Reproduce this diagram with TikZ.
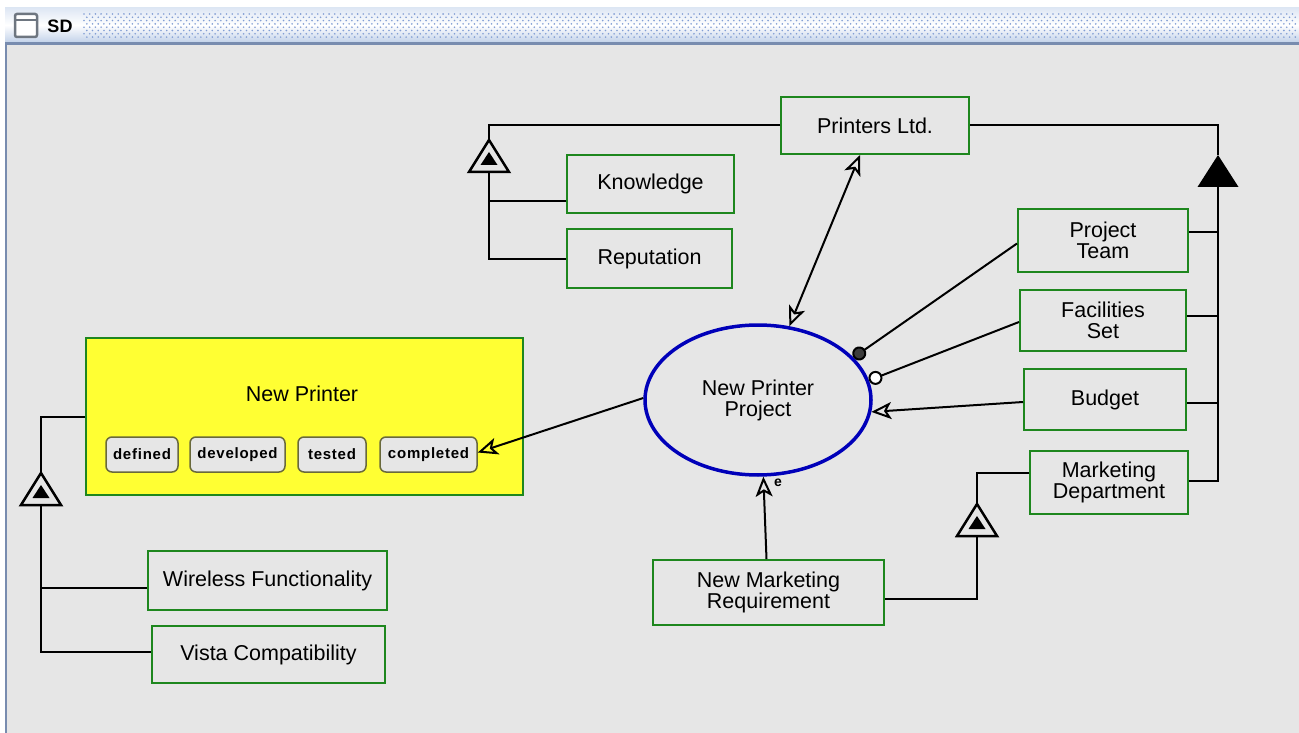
\documentclass[tikz,border=0pt]{standalone}
\usepackage{fontspec}
\setmainfont{Liberation Sans}
\newfontfamily\statefam{Liberation Sans}[LetterSpace=5]
\usetikzlibrary{arrows.meta,shapes.geometric}
\definecolor{bg}{RGB}{230,230,230}
\definecolor{boxgreen}{RGB}{30,135,30}
\definecolor{ellblue}{RGB}{0,0,185}
\definecolor{npyellow}{RGB}{255,255,51}
\definecolor{stateedge}{RGB}{105,105,60}
\definecolor{barlight}{RGB}{222,231,244}
\definecolor{bardark}{RGB}{196,211,234}
\definecolor{barline}{RGB}{120,140,175}
\definecolor{dotc}{RGB}{130,158,212}
\definecolor{icong}{RGB}{110,118,128}
\definecolor{dotdark}{RGB}{60,60,60}
\tikzset{
  box/.style={draw=boxgreen, line width=2pt, fill=bg, rectangle, inner sep=0pt,
    align=center, font=\fontsize{21.5}{21}\selectfont},
  statebox/.style={draw=stateedge, line width=1.5pt, fill=bg, rounded corners=6pt,
    inner sep=0pt, minimum height=35pt, font=\fontsize{15}{15}\statefam\bfseries},
  conn/.style={line width=2pt, draw=black},
  opentip/.tip={Stealth[open, length=20pt, width=17pt, inset=5pt, line width=2pt]},
  openarr/.style={-opentip},
  andtri/.pic={
    \draw[line width=2.5pt, fill=bg, line join=miter] (0,0) -- (20,32) -- (-20,32) -- cycle;
    \fill (0,12) -- (8.5,25) -- (-8.5,25) -- cycle;
  },
  ortri/.pic={
    \fill (0,0) -- (20.5,32) -- (-20.5,32) -- cycle;
  }
}
\begin{document}
\begin{tikzpicture}[x=1pt,y=-1pt]
\useasboundingbox (0,0) rectangle (1299,733);
% window frame
\fill[white] (0,0) rectangle (1299,733);
\shade[top color=barlight, bottom color=bardark, middle color=white] (5,8) rectangle (1299,42);
\fill[barline] (5,42) rectangle (1299,45);
\fill[bg] (7,45) rectangle (1299,733);
\draw[barline, line width=2pt] (6,45) -- (6,733);
\fill[dotc] \foreach \r in {0,...,7} { \foreach \c in {0,...,212} {
   ({84+\c*5.7+mod(\r,2)*2.85}, {14+\r*3.3}) circle (0.9) } };
% icon
\draw[icong, line width=2.5pt, fill=white, rounded corners=2pt] (15,14) rectangle (37,37);
\draw[icong, line width=1.5pt] (15,20) -- (37,20);
\node[font=\fontsize{18}{18}\selectfont\bfseries, anchor=center] (sd) at (60,26) {SD};

% nodes
\node[box, minimum width=188pt, minimum height=57pt] (pl) at (875,125.5) {Printers Ltd.};
\node[box, minimum width=167pt, minimum height=58pt] (kn) at (650.5,184) {Knowledge};
\node[box, minimum width=165pt, minimum height=59pt] (rep) at (649.5,258.5) {Reputation};
\node[box, minimum width=170pt, minimum height=63pt] (ptm) at (1103,240.5) {Project\\Team};
\node[box, minimum width=166pt, minimum height=61pt] (fs) at (1103,320.5) {Facilities\\Set};
\node[box, minimum width=162pt, minimum height=61pt] (bud) at (1105,399.5) {Budget};
\node[box, minimum width=158pt, minimum height=63pt] (md) at (1109,482.5) {Marketing\\Department};
\node[box, minimum width=231pt, minimum height=65pt] (nmr) at (768.5,592.5) {New Marketing\\Requirement};
\node[box, minimum width=239pt, minimum height=59pt] (wf) at (267.5,580.5) {Wireless Functionality};
\node[box, minimum width=233pt, minimum height=57pt] (vc) at (268.5,654.5) {Vista Compatibility};
\node[box, fill=npyellow, minimum width=437pt, minimum height=157pt] (np) at (304.5,416.5) {};
\node[font=\fontsize{21.5}{21}\selectfont] (npt) at (302,394) {New Printer};
\node[statebox, minimum width=72pt] (def) at (142,454.5) {defined};
\node[statebox, minimum width=95pt] (dev) at (237.5,454.5) {developed};
\node[statebox, minimum width=68pt] (tst) at (332,454.5) {tested};
\node[statebox, minimum width=97pt] (cmp) at (428.5,454.5) {completed};
\node[ellipse, draw=ellblue, line width=3.5pt, fill=bg, minimum width=226pt, minimum height=150pt,
  inner sep=0pt, align=center, font=\fontsize{21.5}{21}\selectfont] (ell) at (758,400) {New Printer\\Project};

% decomposition triangles
\coordinate (t1) at (489,140); \coordinate (t1b) at (489,172);
\coordinate (t2) at (1218,155); \coordinate (t2b) at (1218,187);
\coordinate (t3) at (977,504); \coordinate (t3b) at (977,537);
\coordinate (t4) at (41,473); \coordinate (t4b) at (41,506);

\draw[conn] (pl.west) -| (t1);
\draw[conn] (t1b) |- (rep.west);
\draw[conn] ([yshift=-17pt]kn.west) -- ([yshift=-17pt]kn.west -| t1b);
\pic at (t1) {andtri};

\draw[conn] (pl.east) -| (t2);
\draw[conn] (t2b) |- ([yshift=2pt]md.east);
\draw[conn] ([yshift=9pt]ptm.east) -- ([yshift=9pt]ptm.east -| t2b);
\draw[conn] ([yshift=4.5pt]fs.east) -- ([yshift=4.5pt]fs.east -| t2b);
\draw[conn] ([yshift=-3.5pt]bud.east) -- ([yshift=-3.5pt]bud.east -| t2b);
\pic at (t2) {ortri};

\draw[conn] ([yshift=10pt]md.west) -| (t3);
\draw[conn] (t3b) |- ([yshift=-6.5pt]nmr.east);
\pic at (t3) {andtri};

\draw[conn] (np.west) -| (t4);
\draw[conn] (t4b) |- ([yshift=2.5pt]vc.west);
\draw[conn] ([yshift=-7.5pt]wf.west) -- ([yshift=-7.5pt]wf.west -| t4b);
\pic at (t4) {andtri};

% dependencies
\draw[conn, opentip-opentip] ([xshift=-15pt]pl.south) -- (ell.67);
\draw[conn, -{Circle[length=14pt, fill=dotdark]}] ([yshift=-3pt]ptm.west) -- (ell.24);
\draw[conn, -{Circle[length=14pt, fill=white]}] ([yshift=-1.5pt]fs.west) -- (ell.10);
\draw[conn, openarr] ([yshift=-2.5pt]bud.west) -- (ell.-6);
\draw[conn, openarr] (ell.179) -- ([yshift=2pt]cmp.east);
\draw[conn, openarr] ([xshift=-2pt]nmr.north) -- (ell.-86);
\node[font=\fontsize{14}{14}\selectfont\bfseries] (elab) at (778,483) {e};
\end{tikzpicture}
\end{document}
